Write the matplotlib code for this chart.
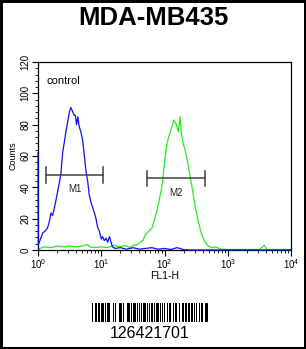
import matplotlib
matplotlib.use('Agg')
import matplotlib.pyplot as plt
from matplotlib.ticker import MultipleLocator, LogLocator, NullFormatter
import numpy as np

plt.rcParams['font.family'] = ['Liberation Sans', 'DejaVu Sans']
plt.rcParams['mathtext.fontset'] = 'custom'
plt.rcParams['mathtext.rm'] = 'Liberation Sans'

# histogram traces (FL1-H channel, counts)
blue_x = [1.0, 1.01, 1.05, 1.19, 1.29, 1.41, 1.51, 1.60, 1.70, 1.82, 2.04, 2.29,
          2.45, 2.61, 2.75, 2.95, 3.13, 3.31, 3.55, 3.72, 3.89, 4.07, 4.27, 4.47,
          4.79, 5.13, 5.37, 5.75, 6.10, 6.46, 6.92, 7.33, 7.76, 8.26, 8.71, 9.33,
          10.0, 10.5, 11.2, 11.9, 12.6, 13.5, 14.5, 15.1, 16.6, 20, 25, 32, 40,
          50, 63, 79, 100, 126, 158, 200, 251, 10000]
blue_y = [62, 3, 5, 11, 12, 14, 18, 23.6, 22, 27, 37, 48,
          62, 69, 75, 82, 88, 91, 88, 86, 86, 80, 85, 79,
          75, 69, 61, 50, 44, 35, 30, 27, 24, 20, 15, 12,
          7, 8.5, 6, 7.6, 5, 8.5, 4, 2, 1, 1.5, 0.5, 1.5, 0.5,
          1, 1.5, 0.5, 1, 0.3, 1.5, 0.3, 0, 0]

green_x = [1.0, 1.07, 1.26, 1.58, 2.0, 2.5, 3.16, 4.0, 5.0, 6.0, 6.6, 7.9, 10,
           12.6, 15.8, 20, 24, 28.5, 31.6, 36.3, 41.7, 46.2, 50, 55.6, 63, 70.8,
           79.4, 90.2, 95.5, 102, 108, 119, 129, 141, 155, 166, 176, 186, 200,
           209, 237, 269, 302, 343, 389, 437, 490, 562, 631, 794, 1000, 3160,
           3800, 4170, 10000]
green_y = [0, 1, 2, 1.5, 2.5, 2, 2.5, 2, 2.5, 3.5, 2, 1.5, 2,
           1.5, 3, 2, 3, 1.5, 3, 3.2, 5, 6.4, 10, 11.7, 13.8, 20.4,
           28.7, 39.5, 48, 58.7, 67, 73.4, 77.7, 83, 79.8, 75.5, 85, 73.4, 67,
           65, 54, 41.5, 28.7, 18, 9.6, 5.3, 2.5, 1.5, 2, 0.5, 0.3, 0.3,
           3, 0.3, 0.3]

# gate markers: (label, start, end, height)
markers = [('M1', 1.32, 10.8, 48), ('M2', 53, 442, 45.7)]

barcode_text = '126421701'
barcode_bits = ('1101001110010110011011001001110110010111011000101101100011010001'
                '1101101001101110010011011100101100111011001011001001110110100011'
                '0110001110101101011001110010110100111011011001110010100110111001'
                '1000111010110101')

fig = plt.figure(figsize=(3.06, 3.49), dpi=100)
fig.patch.set_edgecolor('black')
fig.patch.set_linewidth(2.5)

fig.text(0.5, 0.948, 'MDA-MB435', ha='center', va='center',
         fontsize=18.5, fontweight='bold')

ax = fig.add_axes([38 / 306, 99 / 349, 253 / 306, 188 / 349])
ax.plot(green_x, green_y, color='#22ee22', lw=0.9, clip_on=False, zorder=2)
ax.plot(blue_x, blue_y, color='#1010ee', lw=0.9, clip_on=False, zorder=3)

for name, x0, x1, h in markers:
    ax.plot([x0, x1], [h, h], color='#404040', lw=1.1, zorder=4)
    for xx in (x0, x1):
        ax.plot([xx, xx], [h - 5, h + 5], color='#404040', lw=1.1, zorder=4)
    xm = np.sqrt(x0 * x1)
    ax.text(xm, h - 9, name, ha='center', va='center', fontsize=7, color='#202020')

ax.text(0.035, 0.9, 'control', transform=ax.transAxes, fontsize=8,
        ha='left', va='center')

ax.set_xscale('log')
ax.set_xlim(1, 10000)
ax.set_ylim(0, 120)
ax.xaxis.set_major_locator(LogLocator(base=10, numticks=5))
ax.xaxis.set_minor_locator(LogLocator(base=10, subs=np.arange(2, 10), numticks=10))
ax.xaxis.set_minor_formatter(NullFormatter())
ax.set_xticks([1, 10, 100, 1000, 10000])
ax.set_xticklabels([r'$10^{0}$', r'$10^{1}$', r'$10^{2}$', r'$10^{3}$', r'$10^{4}$'])
ax.yaxis.set_major_locator(MultipleLocator(20))
ax.yaxis.set_minor_locator(MultipleLocator(4))
ax.tick_params(axis='both', which='major', length=4, width=0.8, labelsize=7, pad=1.5)
ax.tick_params(axis='both', which='minor', length=2.5, width=0.6)
for lab in ax.get_yticklabels():
    lab.set_rotation(90)
    lab.set_va('center')
ax.set_xlabel('FL1-H', fontsize=7.5, labelpad=0)
ax.set_ylabel('Counts', fontsize=6.5, labelpad=2)
for sp in ax.spines.values():
    sp.set_linewidth(0.9)

# barcode
bax = fig.add_axes([92 / 306, 27 / 349, 116 / 306, 19 / 349])
bits = np.array([[int(c) for c in barcode_bits]])
bax.imshow(bits, cmap='gray_r', aspect='auto', interpolation='nearest')
bax.axis('off')
fig.text(150 / 306, 1 - 333 / 349, barcode_text, ha='center', va='center', fontsize=11.5)

fig.savefig('out.png', dpi=100)
